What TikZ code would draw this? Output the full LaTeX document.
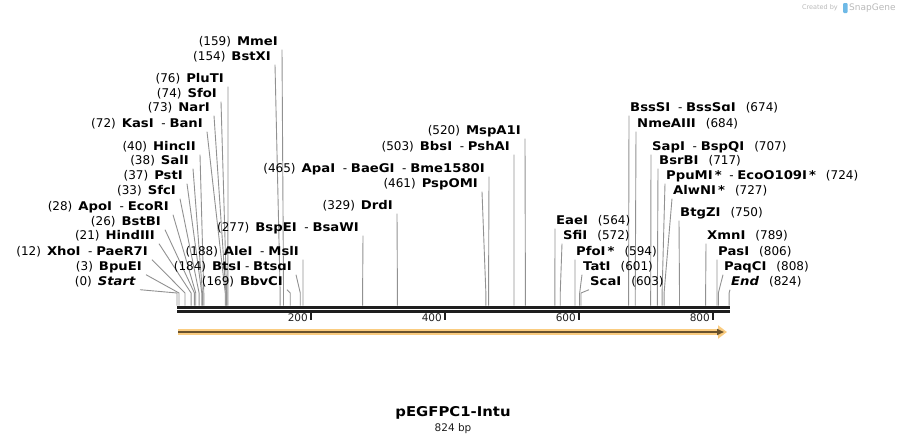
\documentclass[tikz,border=0pt]{standalone}
\usepackage{fontspec}
\setmainfont{DejaVu Sans}[BoldFeatures={FakeStretch=1.1}, BoldItalicFeatures={FakeStretch=1.1}]
\definecolor{sgleader}{RGB}{145,145,145}
\definecolor{sgdark}{RGB}{30,30,30}
\definecolor{sgorange}{RGB}{250,204,128}
\definecolor{sgbrown}{RGB}{105,82,45}
\definecolor{sgmark}{RGB}{185,185,185}
\definecolor{sgblue}{RGB}{110,185,230}
\usetikzlibrary{positioning}
\usetikzlibrary{arrows.meta}

\tikzset{
  sitel/.style={anchor=east, inner xsep=4pt, inner ysep=2pt, text height=8.5pt, text depth=2.5pt, font=\fontsize{12}{14}\selectfont},
  siter/.style={anchor=west, inner xsep=1pt, inner ysep=2pt, text height=8.5pt, text depth=2.5pt, font=\fontsize{12}{14}\selectfont},
  leader/.style={draw=sgleader, line width=0.9pt},
  ticklbl/.style={anchor=east, inner sep=1pt, text=sgdark, font=\fontsize{10.5}{12}\selectfont},
}
\newcommand{\enz}[1]{\textbf{#1}}
% site label left of its leader: name, bp, x, y, text
\newcommand{\lsite}[5]{%
  \node[sitel] (#1) at (#3,#4) {(#2)\hspace{6pt}#5};
  \coordinate (#1k) at ({177+0.67*#2},293);
  \coordinate (#1s) at ({177+0.67*#2},305.5);
  \draw[leader] (#1.south east) -- (#1k) -- (#1s);}
% site label right of its leader
\newcommand{\rsite}[5]{%
  \node[siter] (#1) at (#3,#4) {#5\hspace{10pt}(#2)};
  \coordinate (#1k) at ({177+0.67*#2},293);
  \coordinate (#1s) at ({177+0.67*#2},305.5);
  \draw[leader] (#1.south west) -- (#1k) -- (#1s);}

\begin{document}
\begin{tikzpicture}[x=1pt, y=-1pt]
  \useasboundingbox (0,0) rectangle (908,445);

  % left hand labels
  \lsite{mmei}{159}{282}{42}{\enz{MmeI}}
  \lsite{bstxi}{154}{275}{57}{\enz{BstXI}}
  \lsite{pluti}{76}{228}{79}{\enz{PluTI}}
  \lsite{sfoi}{74}{221}{94}{\enz{SfoI}}
  \lsite{nari}{73}{214}{108}{\enz{NarI}}
  \lsite{kasi}{72}{207}{124}{\enz{KasI}\ \ -\ \enz{BanI}}
  \lsite{hincii}{40}{200}{147}{\enz{HincII}}
  \lsite{sali}{38}{193}{161}{\enz{SalI}}
  \lsite{psti}{37}{187}{176}{\enz{PstI}}
  \lsite{sfci}{33}{180}{191}{\enz{SfcI}}
  \lsite{apoi}{28}{173}{207}{\enz{ApoI}\ \ -\ \enz{EcoRI}}
  \lsite{bstbi}{26}{165}{222}{\enz{BstBI}}
  \lsite{hindiii}{21}{159}{236}{\enz{HindIII}}
  \lsite{xhoi}{12}{152}{252}{\enz{XhoI}\ \ -\ \enz{PaeR7I}}
  \lsite{bpuei}{3}{146}{267}{\enz{BpuEI}}
  \lsite{start}{0}{140}{282}{\enz{\itshape Start}}

  % middle labels
  \lsite{bspei}{277}{363}{228}{\enz{BspEI}\ \ -\ \enz{BsaWI}}
  \lsite{alei}{188}{303}{252}{\enz{AleI}\ \ -\ \enz{MslI}}
  \lsite{btsi}{184}{296}{267}{\enz{BtsI}\ -\ \enz{BtsɑI}}
  \lsite{bbvci}{169}{287}{282}{\enz{BbvCI}}
  \lsite{drdi}{329}{397}{206}{\enz{DrdI}}
  \lsite{apai}{465}{489}{169}{\enz{ApaI}\ \ -\ \enz{BaeGI}\ \ -\ \enz{Bme1580I}}
  \lsite{pspomi}{461}{482}{184}{\enz{PspOMI}}
  \lsite{bbsi}{503}{514}{147}{\enz{BbsI}\ \ -\ \enz{PshAI}}
  \lsite{mspai}{520}{525}{131}{\enz{MspA1I}}

  % right hand labels
  \rsite{bsssi}{674}{629}{108}{\enz{BssSI}\ \ -\ \enz{BssSɑI}}
  \rsite{nmeaiii}{684}{636}{124}{\enz{NmeAIII}}
  \rsite{sapi}{707}{651}{147}{\enz{SapI}\ \ -\ \enz{BspQI}}
  \rsite{bsrbi}{717}{658}{161}{\enz{BsrBI}}
  \rsite{ppumi}{724}{665}{176}{\enz{PpuMI\,*}\ \ -\ \enz{EcoO109I\,*}}
  \rsite{alwni}{727}{672}{191}{\enz{AlwNI\,*}}
  \rsite{btgzi}{750}{679}{213}{\enz{BtgZI}}
  \rsite{eaei}{564}{555}{221}{\enz{EaeI}}
  \rsite{sfii}{572}{562}{236}{\enz{SfiI}}
  \rsite{pfoi}{594}{575}{252}{\enz{PfoI\,*}}
  \rsite{tati}{601}{582}{267}{\enz{TatI}}
  \rsite{scai}{603}{589}{282}{\enz{ScaI}}
  \rsite{xmni}{789}{706}{236}{\enz{XmnI}}
  \rsite{pasi}{806}{717}{252}{\enz{PasI}}
  \rsite{paqci}{808}{723}{267}{\enz{PaqCI}}
  \rsite{end}{824}{730}{282}{\enz{\itshape End}}

  % sequence
  \coordinate (seqa) at (177,307.2);
  \coordinate (seqb) at (729.5,307.2);
  \draw[sgdark, line width=2.8pt] (seqa) -- (seqb);
  \draw[sgdark, line width=2.8pt] ([yshift=-4pt]seqa) -- ([yshift=-4pt]seqb);

  % ruler
  \draw[sgdark, line width=1.6pt] (311,312.5) -- (311,320);
  \draw[sgdark, line width=1.6pt] (445,312.5) -- (445,320);
  \draw[sgdark, line width=1.6pt] (579,312.5) -- (579,320);
  \draw[sgdark, line width=1.6pt] (713,312.5) -- (713,320);
  \node[ticklbl] (t200) at (309,318) {200};
  \node[ticklbl] (t400) at (443,318) {400};
  \node[ticklbl] (t600) at (577,318) {600};
  \node[ticklbl] (t800) at (711,318) {800};

  % feature
  \coordinate (fa) at (178,332);
  \coordinate (fb) at (727,332);
  \draw[sgorange, line width=6pt, -{Triangle[length=9pt,width=13pt]}] (fa) -- (fb);
  \draw[sgbrown, line width=1.6pt, -{Triangle[length=7pt,width=6pt]}] (fa) -- ([xshift=-3pt]fb);

  % title
  \node[font=\bfseries\fontsize{13.5}{16}\selectfont, inner sep=0pt] (title) at (453,413) {pEGFPC1-Intu};
  \node[font=\fontsize{10.5}{12}\selectfont, text=sgdark, below=4pt of title, inner sep=0pt] (bp) {824 bp};

  % credit
  \node[anchor=east, text=sgmark, font=\fontsize{6.5}{8}\selectfont, inner sep=0pt] (credit) at (838,8) {Created by};
  \fill[sgblue, rounded corners=1pt] (843,3) rectangle (847.5,13);
  \node[anchor=west, text=sgmark, font=\fontsize{9}{10}\selectfont, inner sep=0pt] (snapgene) at (849,8) {SnapGene};
\end{tikzpicture}
\end{document}
